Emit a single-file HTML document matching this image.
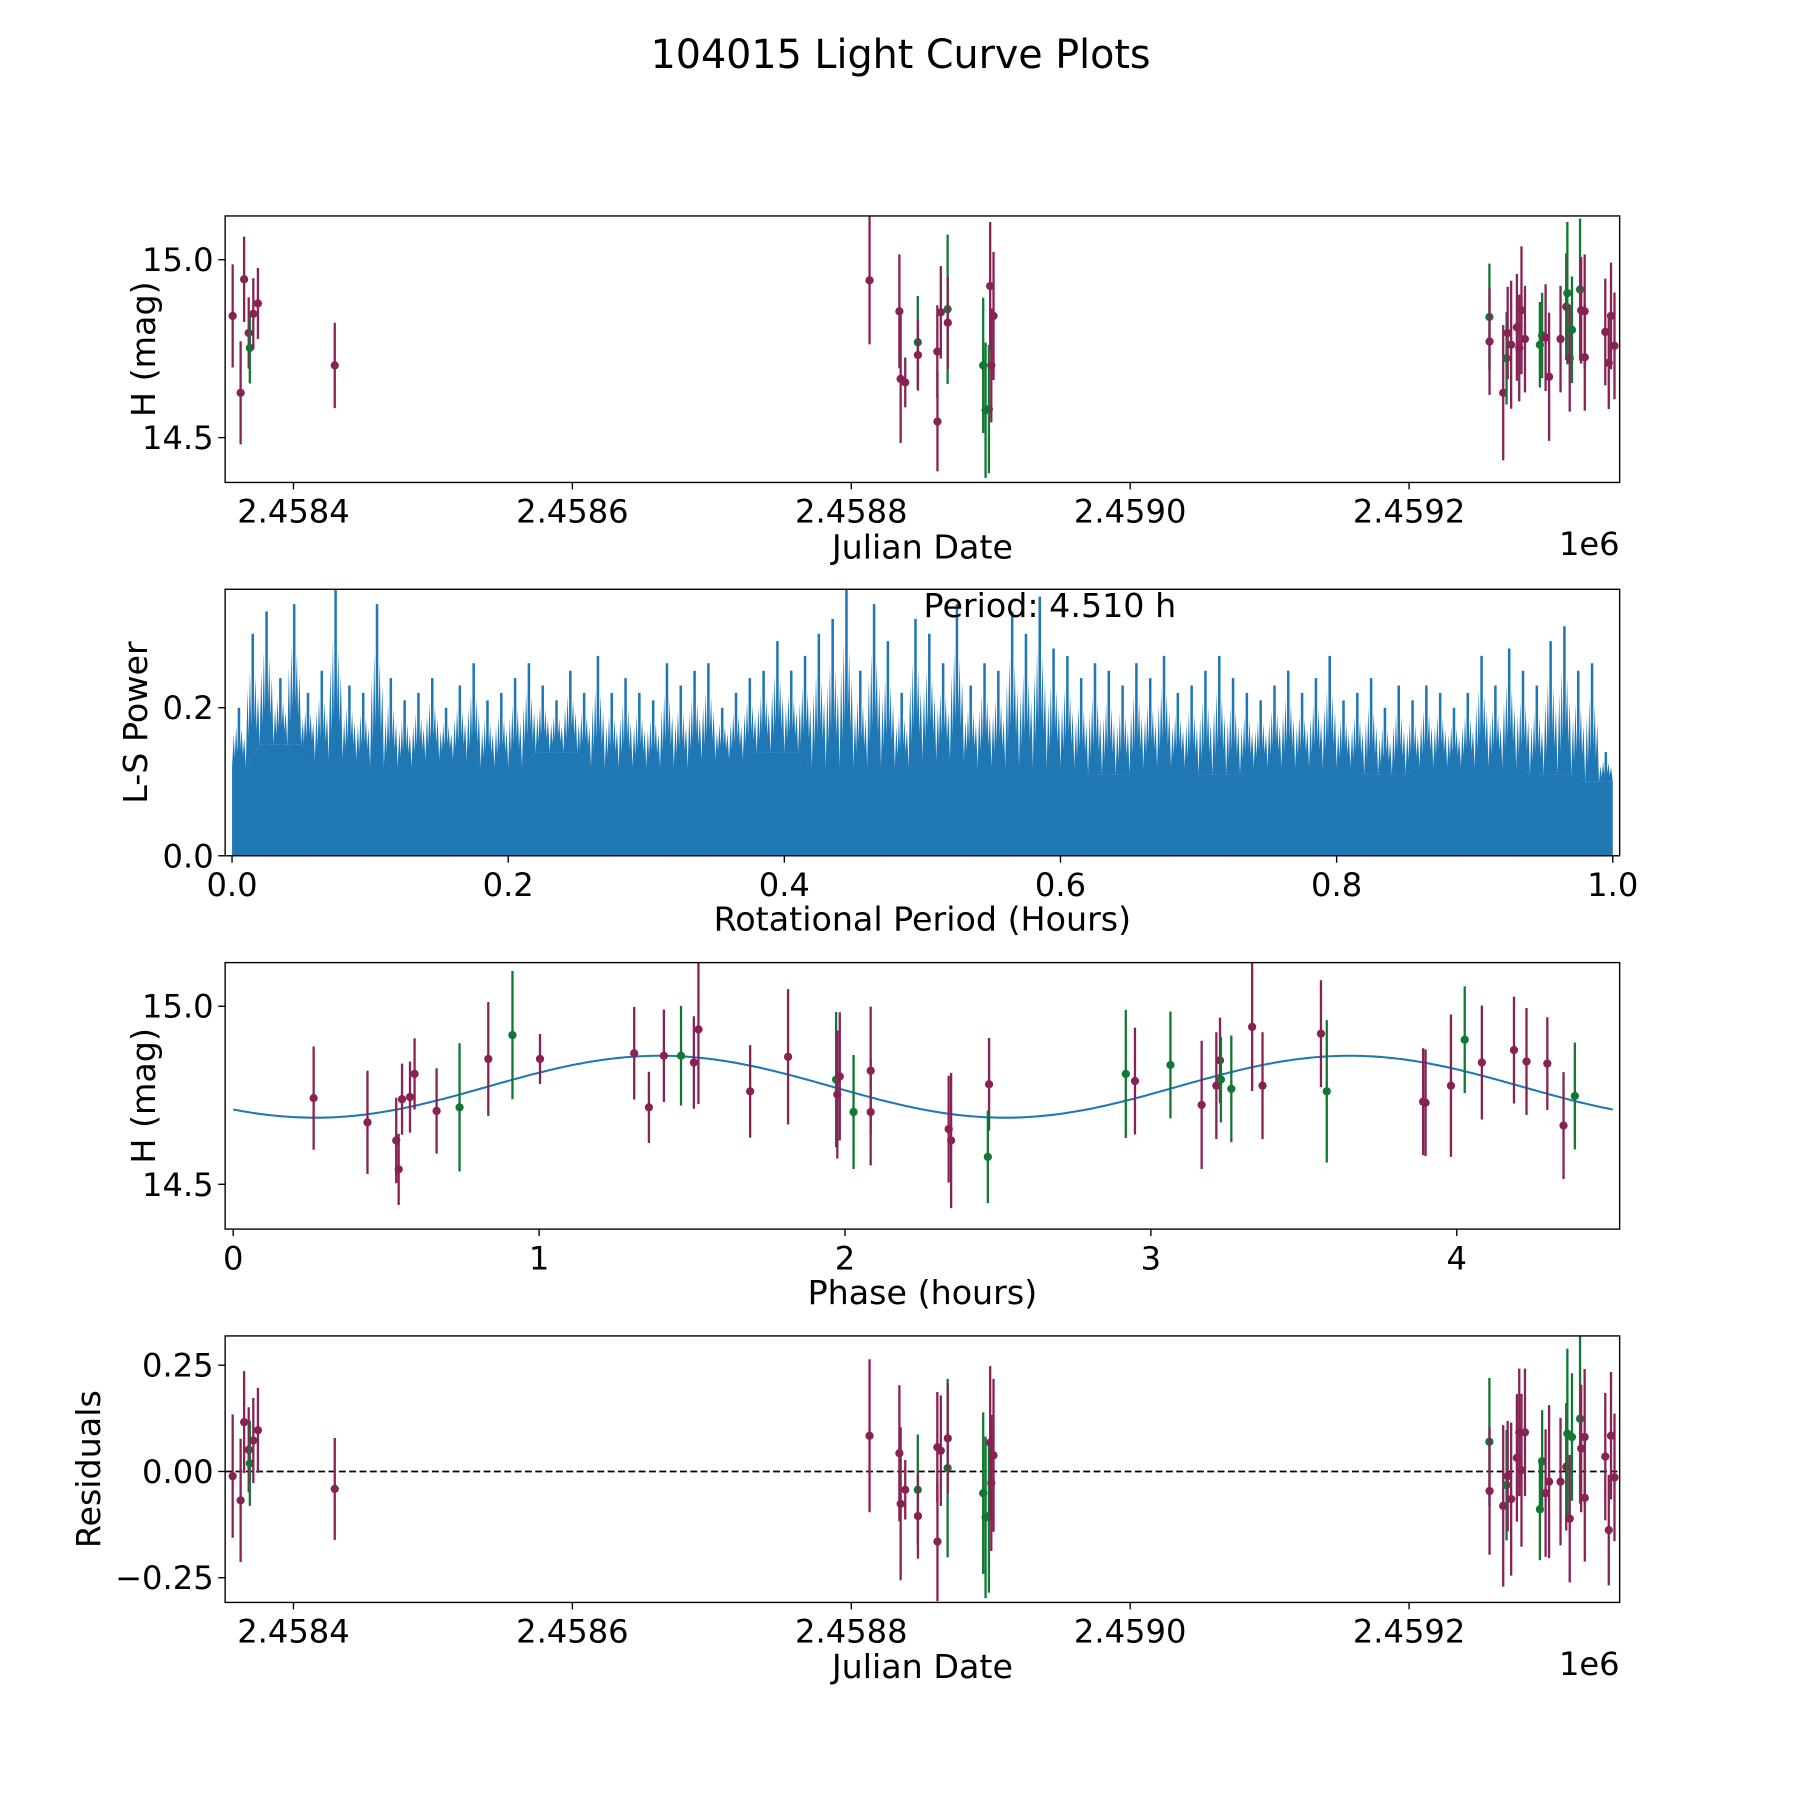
<!DOCTYPE html>
<html><head><meta charset="utf-8"><style>
html,body{margin:0;padding:0;background:#fff;}
svg{display:block;font-family:"DejaVu Sans","Liberation Sans",sans-serif;}
</style></head><body>
<svg id="fig" width="1800" height="1800" viewBox="0 0 1567 1567" xmlns="http://www.w3.org/2000/svg">
<rect width="1567" height="1567" fill="#fff"/>
<text x="784" y="59" font-size="34.5" text-anchor="middle">104015 Light Curve Plots</text>
</svg>
<script>
// ---- data ----
const obsJD=[2458356.4,2458362.1,2458364.6,2458367.9,2458368.7,2458371.2,2458374.5,2458429.6,
2458813.1,2458834.5,2458835.4,2458838.7,2458847.7,2458847.8,2458861.7,2458861.8,2458864.2,2458869.1,2458869.2,2458894.6,2458896.3,2458898.7,2458899.6,2458900.4,2458902.0,
2459257.6,2459257.7,2459267.5,2459269.9,2459270.7,2459273.2,2459277.3,2459279.0,2459280.6,2459283.1,2459293.8,2459295.4,2459297.9,2459300.4,2459308.6,2459312.7,2459313.5,2459315.2,2459316.8,2459322.6,2459323.4,2459325.9,2459326.0,2459340.7,2459343.2,2459344.8,2459347.3];
const obsMag=[14.842,14.626,14.945,14.794,14.752,14.848,14.877,14.703,
14.942,14.855,14.665,14.655,14.768,14.732,14.742,14.545,14.852,14.861,14.823,14.703,14.577,14.580,14.926,14.703,14.842,
14.839,14.770,14.626,14.723,14.794,14.761,14.810,14.752,14.858,14.777,14.761,14.787,14.781,14.671,14.777,14.868,14.906,14.723,14.803,14.916,14.858,14.855,14.726,14.797,14.710,14.842,14.758];
const obsRes=[-0.011,-0.068,0.116,0.051,0.019,0.073,0.097,-0.041,
0.084,0.043,-0.076,-0.043,-0.043,-0.105,0.057,-0.165,0.049,0.008,0.078,-0.051,-0.108,-0.105,0.068,-0.027,0.038,
0.070,-0.046,-0.081,-0.032,-0.011,-0.065,0.032,0.092,0.003,0.092,-0.089,0.024,-0.051,-0.024,-0.024,0.011,0.089,-0.111,0.081,0.124,0.054,0.081,-0.062,0.035,-0.138,0.084,-0.014];
const obsErr=[0.145,0.145,0.12,0.10,0.10,0.10,0.10,0.12,
0.18,0.16,0.18,0.07,0.13,0.10,0.13,0.14,0.13,0.21,0.13,0.19,0.19,0.18,0.18,0.16,0.18,
0.15,0.15,0.19,0.13,0.13,0.18,0.15,0.15,0.18,0.15,0.12,0.12,0.15,0.18,0.15,0.15,0.20,0.15,0.15,0.20,0.15,0.16,0.15,0.15,0.13,0.15,0.15];
const obsFilt=['m','m','m','m','g','m','m','m',
'm','m','m','m','g','m','m','m','m','g','m','g','g','g','m','m','m',
'g','m','m','g','m','m','m','m','m','m','g','g','m','m','m','m','g','m','g','g','m','m','m','m','m','m','m'];
const phaseX=[0.263,0.439,0.533,0.541,0.552,0.578,0.593,0.665,0.740,0.834,0.913,1.003,1.311,1.359,1.408,1.464,1.506,1.521,1.690,1.814,1.971,1.975,1.983,2.028,2.084,2.084,2.339,2.347,2.471,2.467,2.918,2.948,3.064,3.166,3.214,3.226,3.229,3.263,3.331,3.365,3.556,3.575,3.890,3.898,3.981,4.026,4.082,4.187,4.228,4.296,4.349,4.386];
const phaseMag=[14.742,14.674,14.623,14.542,14.739,14.745,14.810,14.706,14.716,14.852,14.919,14.852,14.868,14.716,14.861,14.861,14.842,14.935,14.761,14.858,14.794,14.752,14.803,14.703,14.819,14.703,14.655,14.623,14.781,14.577,14.810,14.790,14.835,14.723,14.777,14.848,14.794,14.768,14.942,14.777,14.923,14.761,14.732,14.729,14.777,14.906,14.842,14.877,14.845,14.839,14.665,14.748];
const phaseFilt=['m','m','m','m','m','m','m','m','g','m','g','m','m','m','m','g','m','m','m','m','g','m','m','g','m','m','m','m','m','g','g','m','g','m','m','m','g','g','m','m','m','g','m','m','m','g','m','m','m','m','m','g'];
const lsPeak=[0.20,0.30,0.33,0.24,0.34,0.22,0.25,0.36,0.23,0.22,
0.34,0.24,0.21,0.22,0.24,0.20,0.23,0.26,0.21,0.22,
0.24,0.26,0.23,0.21,0.25,0.22,0.27,0.22,0.24,0.22,
0.21,0.26,0.23,0.25,0.26,0.20,0.22,0.24,0.25,0.29,
0.25,0.27,0.30,0.32,0.36,0.25,0.34,0.29,0.22,0.32,
0.30,0.26,0.34,0.23,0.26,0.25,0.33,0.30,0.35,0.28,
0.27,0.24,0.26,0.25,0.23,0.26,0.24,0.27,0.22,0.23,
0.25,0.27,0.24,0.22,0.21,0.23,0.25,0.22,0.24,0.27,
0.21,0.22,0.24,0.20,0.23,0.21,0.23,0.22,0.20,0.22,
0.27,0.23,0.28,0.25,0.23,0.29,0.31,0.25,0.26,0.14];
const lsFloor=[0.12,0.15,0.13,0.12,0.13,0.12,0.14,0.12,0.12,0.13,0.14,0.12,0.12,0.13,0.12,0.12,0.11,0.12,0.11,0.12,0.12,0.11,0.12,0.12,0.11,0.10];
const fitMean=14.774, fitAmp=0.087, fitPeak=3.65, fitHalfPeriod=2.255;
const jdTicks=[2458400,2458600,2458800,2459000,2459200];
const jdTickLabels=['2.4584','2.4586','2.4588','2.4590','2.4592'];
const magTicks=[14.5,15.0], magTickLabels=['14.5','15.0'];
const lsXTicks=[0,0.2,0.4,0.6,0.8,1.0], lsXTickLabels=['0.0','0.2','0.4','0.6','0.8','1.0'];
const lsYTicks=[0,0.2], lsYTickLabels=['0.0','0.2'];
const phTicks=[0,1,2,3,4], phTickLabels=['0','1','2','3','4'];
const resTicks=[-0.25,0,0.25], resTickLabels=['\u22120.25','0.00','0.25'];

// ---- drawing ----
const NS='http://www.w3.org/2000/svg', svg=document.getElementById('fig');
const COL={m:'#882255',g:'#117733'};
const TF=28, LF=29;
function mk(tag,attrs,parent){const e=document.createElementNS(NS,tag);for(const k in attrs)e.setAttribute(k,attrs[k]);(parent||svg).appendChild(e);return e;}
function lin(d0,d1,p0,p1){return v=>p0+(v-d0)/(d1-d0)*(p1-p0);}
const X0=196,X1=1410;
function frame(name){const g=mk('g',{});return g;}
function border(g,y0,y1){const r=mk('rect',{x:X0,y:y0,width:X1-X0,height:y1-y0,fill:'none',stroke:'#000','stroke-width':1.2},g);}
function xticks(g,sx,ticks,labels,y1){ticks.forEach((t,i)=>{const x=sx(t);const l=mk('line',{x1:x,x2:x,y1:y1,y2:y1+6,stroke:'#000','stroke-width':1.2},g);const tx=mk('text',{x:x,y:y1+35,'font-size':TF,'text-anchor':'middle'},g);tx.textContent=labels[i];});}
function yticks(g,sy,ticks,labels){ticks.forEach((t,i)=>{const y=sy(t);const l=mk('line',{x1:X0-6,x2:X0,y1:y,y2:y,stroke:'#000','stroke-width':1.2},g);const tx=mk('text',{x:X0-10,y:y+10,'font-size':TF,'text-anchor':'end'},g);tx.textContent=labels[i];});}
function label(g,txt,x,y,rot,name){const t=mk('text',{x:x,y:y,'font-size':LF,'text-anchor':'middle'},g);if(rot)t.setAttribute('transform','rotate(-90 '+x+' '+y+')');t.textContent=txt;}
function errpts(g,xs,ys,es,fs,sx,sy,name){xs.forEach((v,i)=>{const x=sx(v),y=sy(ys[i]);const c=COL[fs[i]];const l=mk('line',{x1:x,x2:x,y1:sy(ys[i]-es[i]),y2:sy(ys[i]+es[i]),stroke:c,'stroke-width':2},g);const p=mk('circle',{cx:x,cy:y,r:3.6,fill:c},g);});}
function clip(id,y0,y1){const d=mk('clipPath',{id:id});mk('rect',{x:X0,y:y0,width:X1-X0,height:y1-y0},d);}

// Panel 1
(function(){const y0=188,y1=420;const g=frame('light-curve-panel');clip('c1',y0,y1);
const sx=lin(2458351,2459351,X0,X1), sy=lin(15.123,14.374,y0,y1);
const d=mk('g',{'clip-path':'url(#c1)'},g);errpts(d,obsJD,obsMag,obsErr,obsFilt,sx,sy,'observation');
border(g,y0,y1);xticks(g,sx,jdTicks,jdTickLabels,y1);yticks(g,sy,magTicks,magTickLabels);
label(g,'Julian Date',803,486,false,'x-axis-title');label(g,'H (mag)',135,y0+(y1-y0)/2,true,'y-axis-title');
const e=mk('text',{x:X1,y:483,'font-size':TF,'text-anchor':'end'},g);e.textContent='1e6';})();

// Panel 2 periodogram
(function(){const y0=513,y1=745;const g=frame('periodogram-panel');clip('c2',y0,y1);
const sx=lin(-0.005,1.005,X0,X1), sy=lin(0.36,0,y0,y1);const d=mk('g',{'clip-path':'url(#c2)'},g);
const n=lsPeak.length, w=1/n;
const fi=v=>lsFloor[Math.min(lsFloor.length-1,Math.round(v*(lsFloor.length-1)))];
let pts=[[sx(0),sy(0)]];for(let i=0;i<=n;i++){pts.push([sx(i*w),sy(fi(i*w))]);}pts.push([sx(1),sy(0)]);
const fl=mk('polygon',{points:pts.map(p=>p.join(',')).join(' '),fill:'#1f77b4'},d);
lsPeak.forEach((p,i)=>{const a=i*w,b=(i+1)*w,c=(i+0.5)*w;const fa=fi(a),fb=fi(b),fm=(fa+fb)/2,h=p-fm;
const P=[[a,fa],[a+w*0.12,fm+h*0.55],[a+w*0.2,fm+h*0.15],[a+w*0.3,fm+h*0.7],[a+w*0.38,fm+h*0.25],[c,p],[a+w*0.6,fm+h*0.3],[a+w*0.7,fm+h*0.65],[a+w*0.78,fm+h*0.2],[a+w*0.88,fm+h*0.5],[b,fb]];
const poly=mk('polygon',{points:P.map(q=>sx(q[0]).toFixed(1)+','+sy(q[1]).toFixed(1)).join(' '),fill:'#1f77b4'},d);
const ln=mk('line',{x1:sx(c),x2:sx(c),y1:sy(0),y2:sy(p),stroke:'#1f77b4','stroke-width':2.2},d);});
border(g,y0,y1);xticks(g,sx,lsXTicks,lsXTickLabels,y1);yticks(g,sy,lsYTicks,lsYTickLabels);
label(g,'Rotational Period (Hours)',803,810,false,'x-axis-title');label(g,'L-S Power',128,y0+(y1-y0)/2,true,'y-axis-title');
const t=mk('text',{x:804,y:537,'font-size':29},g);t.textContent='Period: 4.510 h';})();

// Panel 3 phase
(function(){const y0=838,y1=1070;const g=frame('phase-folded-panel');clip('c3',y0,y1);
const sx=lin(0,1,203,469.3), sy=lin(15.0,14.5,876,1031);const d=mk('g',{'clip-path':'url(#c3)'},g);
let p=[];for(let i=0;i<=400;i++){const ph=i/400*4.51;p.push(sx(ph).toFixed(1)+','+sy(fitMean+fitAmp*Math.cos(2*Math.PI*(ph-fitPeak)/fitHalfPeriod)).toFixed(1));}
const c=mk('polyline',{points:p.join(' '),fill:'none',stroke:'#1f77b4','stroke-width':1.8},d);
errpts(d,phaseX,phaseMag,phaseX.map((_,i)=>obsErr[i%obsErr.length]),phaseFilt,sx,sy,'phase');
border(g,y0,y1);xticks(g,sx,phTicks,phTickLabels,y1);yticks(g,sy,magTicks,magTickLabels);
label(g,'Phase (hours)',803,1135,false,'x-axis-title');label(g,'H (mag)',135,y0+(y1-y0)/2,true,'y-axis-title');})();

// Panel 4 residuals
(function(){const y0=1163,y1=1395;const g=frame('residuals-panel');clip('c4',y0,y1);
const sx=lin(2458351,2459351,X0,X1), sy=lin(0,0.25,1281,1188.5);const d=mk('g',{'clip-path':'url(#c4)'},g);
const z=mk('line',{x1:X0,x2:X1,y1:sy(0),y2:sy(0),stroke:'#000','stroke-width':1.5,'stroke-dasharray':'6,3'},d);
errpts(d,obsJD,obsRes,obsErr,obsFilt,sx,sy,'residual');
border(g,y0,y1);xticks(g,sx,jdTicks,jdTickLabels,y1);yticks(g,sy,resTicks,resTickLabels);
label(g,'Julian Date',803,1461,false,'x-axis-title');label(g,'Residuals',87,y0+(y1-y0)/2,true,'y-axis-title');
const e=mk('text',{x:X1,y:1458,'font-size':TF,'text-anchor':'end'},g);e.textContent='1e6';})();
</script>
</body></html>
